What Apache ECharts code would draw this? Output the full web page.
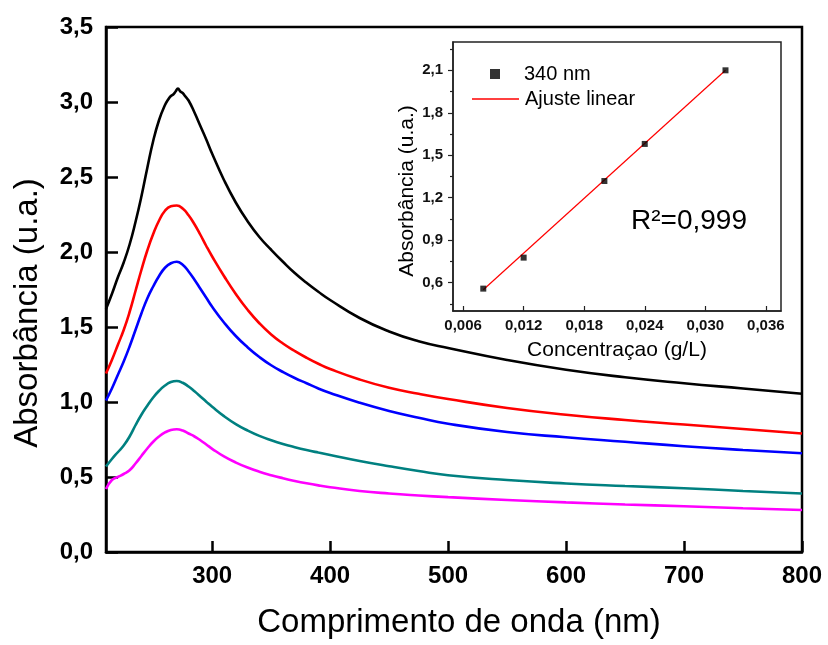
<!DOCTYPE html>
<html>
<head>
<meta charset="utf-8">
<script src="https://cdn.jsdelivr.net/npm/echarts@6/dist/echarts.min.js"></script>
<style>
  html, body { margin: 0; padding: 0; background: #ffffff; }
  #chart { width: 828px; height: 645px; }
</style>
</head>
<body>
<div id="chart"></div>
<script>
// UV-Vis absorption spectra at five concentrations (nm vs absorbance)
const wavelengths = [210, 215, 220, 225, 230, 235, 240, 245, 250, 255, 260, 265, 270, 275, 280, 285, 290, 295, 300, 310, 320, 330, 340, 350, 360, 370, 380, 390, 400, 425, 450, 475, 500, 550, 600, 650, 700, 750, 800];
const absRed     = [1.19, 1.28, 1.38, 1.48, 1.60, 1.74, 1.88, 2.01, 2.12, 2.21, 2.275, 2.305, 2.31, 2.29, 2.245, 2.185, 2.115, 2.04, 1.97, 1.84, 1.72, 1.615, 1.525, 1.45, 1.39, 1.34, 1.295, 1.255, 1.22, 1.15, 1.095, 1.055, 1.02, 0.96, 0.915, 0.88, 0.85, 0.82, 0.79];
const absBlue    = [1.01, 1.09, 1.18, 1.27, 1.37, 1.48, 1.59, 1.69, 1.77, 1.84, 1.895, 1.925, 1.935, 1.915, 1.87, 1.815, 1.755, 1.695, 1.635, 1.53, 1.44, 1.365, 1.30, 1.245, 1.20, 1.16, 1.125, 1.09, 1.06, 0.995, 0.94, 0.895, 0.855, 0.80, 0.765, 0.735, 0.705, 0.68, 0.658];
const absTeal    = [0.57, 0.62, 0.665, 0.71, 0.77, 0.845, 0.915, 0.975, 1.03, 1.075, 1.11, 1.133, 1.14, 1.128, 1.103, 1.071, 1.037, 1.002, 0.968, 0.906, 0.853, 0.81, 0.774, 0.745, 0.72, 0.699, 0.68, 0.663, 0.647, 0.607, 0.572, 0.54, 0.512, 0.48, 0.457, 0.44, 0.425, 0.407, 0.39];
const absMagenta = [0.42, 0.48, 0.50, 0.52, 0.545, 0.59, 0.64, 0.69, 0.735, 0.77, 0.797, 0.813, 0.818, 0.81, 0.79, 0.77, 0.745, 0.717, 0.688, 0.637, 0.597, 0.563, 0.535, 0.512, 0.492, 0.474, 0.458, 0.444, 0.432, 0.407, 0.39, 0.377, 0.366, 0.347, 0.331, 0.317, 0.305, 0.292, 0.28];

// the most concentrated sample is noisier around its peak, so it is sampled more densely
const blackWavelengths = [210, 215, 220, 225, 230, 235, 240, 245, 250, 255, 260, 263, 265, 267, 269, 271, 273, 275, 277, 280, 285, 290, 295, 300, 310, 320, 330, 340, 350, 360, 370, 380, 390, 400, 425, 450, 475, 500, 550, 600, 650, 700, 750, 800];
const absBlack         = [1.62, 1.72, 1.83, 1.93, 2.05, 2.20, 2.37, 2.56, 2.74, 2.88, 2.98, 3.02, 3.04, 3.05, 3.07, 3.09, 3.07, 3.06, 3.04, 3.01, 2.93, 2.84, 2.75, 2.655, 2.48, 2.33, 2.205, 2.10, 2.015, 1.935, 1.86, 1.795, 1.735, 1.68, 1.56, 1.47, 1.405, 1.36, 1.28, 1.215, 1.165, 1.125, 1.09, 1.055];

// calibration at 340 nm
const concentrations = [0.008, 0.012, 0.020, 0.024, 0.032];
const abs340         = [0.558, 0.777, 1.318, 1.58, 2.10];
const fitConc        = [0.008, 0.032];
const fitAbs         = [0.55, 2.10];

// tick positions
const mainXTicks   = [300, 400, 500, 600, 700, 800];
const insetXTicks  = [0.006, 0.012, 0.018, 0.024, 0.030, 0.036];
const insetYTicks  = [0.6, 0.9, 1.2, 1.5, 1.8, 2.1];
const insetYMinor  = [0.45, 0.75, 1.05, 1.35, 1.65, 1.95, 2.25];

const FONT = '"Liberation Sans", Arial, sans-serif';
const pairs = (xs, ys) => xs.map((x, i) => [x, ys[i]]);
const comma = (v, d) => v.toFixed(d).replace('.', ',');

const spectrum = (name, xs, ys, color) => ({
  name, type: 'line', xAxisIndex: 0, yAxisIndex: 0,
  data: pairs(xs, ys), symbol: 'none', smooth: 0.5,
  lineStyle: { color, width: 2.6 }, itemStyle: { color }, z: 3
});

const chart = echarts.init(document.getElementById('chart'), null, { renderer: 'canvas' });

chart.setOption({
  animation: false,
  backgroundColor: '#ffffff',
  textStyle: { fontFamily: FONT },
  grid: [
    { left: 106, top: 27, right: 26, bottom: 93, containLabel: false, outerBoundsMode: 'none',
      show: true, borderColor: '#000', borderWidth: 2.5, backgroundColor: 'transparent' },
    { left: 453, top: 42, right: 47, bottom: 334, containLabel: false, outerBoundsMode: 'none',
      show: true, borderColor: '#222', borderWidth: 1.5, backgroundColor: '#ffffff' }
  ],
  xAxis: [
    { type: 'value', gridIndex: 0, min: 210, max: 800,
      axisLine: { show: true, onZero: false, lineStyle: { color: '#000', width: 2.5 } },
      axisTick: { show: true, inside: true, length: 11, customValues: mainXTicks, lineStyle: { color: '#000', width: 2.5 } },
      axisLabel: { customValues: mainXTicks, margin: 12, fontSize: 24, fontWeight: 'bold', color: '#000', fontFamily: FONT },
      splitLine: { show: false } },
    { type: 'value', gridIndex: 1, min: 0.005, max: 0.0375,
      axisLine: { show: true, onZero: false, lineStyle: { color: '#222', width: 1.5 } },
      axisTick: { show: true, inside: true, length: 5, customValues: insetXTicks, lineStyle: { color: '#222', width: 1.2 } },
      axisLabel: { customValues: insetXTicks, margin: 7, fontSize: 15, fontWeight: 'bold', color: '#111', fontFamily: FONT,
                   formatter: v => comma(v, 3) },
      splitLine: { show: false } }
  ],
  yAxis: [
    { type: 'value', gridIndex: 0, min: 0, max: 3.5, interval: 0.5,
      axisLine: { show: true, onZero: false, lineStyle: { color: '#000', width: 2.5 } },
      axisTick: { show: true, inside: true, length: 12, lineStyle: { color: '#000', width: 2.5 } },
      axisLabel: { margin: 13, fontSize: 24, fontWeight: 'bold', color: '#000', fontFamily: FONT,
                   formatter: v => comma(v, 1) },
      splitLine: { show: false } },
    { type: 'value', gridIndex: 1, min: 0.4, max: 2.3, position: 'left',
      axisLine: { show: true, onZero: false, lineStyle: { color: '#222', width: 1.5 } },
      axisTick: { show: true, inside: false, length: 5, customValues: insetYTicks, lineStyle: { color: '#222', width: 1.2 } },
      axisLabel: { customValues: insetYTicks, margin: 10, fontSize: 15, fontWeight: 'bold', color: '#111', fontFamily: FONT,
                   formatter: v => comma(v, 1) },
      splitLine: { show: false } },
    { type: 'value', gridIndex: 1, min: 0.4, max: 2.3, position: 'left', offset: 0,
      axisLine: { show: false },
      axisTick: { show: true, inside: false, length: 3, customValues: insetYMinor, lineStyle: { color: '#222', width: 1.2 } },
      axisLabel: { show: false },
      splitLine: { show: false } }
  ],
  legend: [
    { data: [{ name: '340 nm', icon: 'rect' }],
      left: 490, top: 64, padding: 0, itemWidth: 10, itemHeight: 10,
      itemStyle: { color: '#000' },
      textStyle: { fontSize: 20, color: '#000', fontFamily: FONT, padding: [0, 0, 0, 19] },
      selectedMode: false },
    { data: [{ name: 'Ajuste linear', icon: 'rect' }],
      left: 472, top: 89, padding: 0, itemWidth: 47, itemHeight: 1.4,
      itemStyle: { color: '#ff0000' },
      textStyle: { fontSize: 20, color: '#000', fontFamily: FONT, padding: [0, 0, 0, 1] },
      selectedMode: false }
  ],
  series: [
    spectrum('Amostra 1', blackWavelengths, absBlack, '#000000'),
    spectrum('Amostra 2', wavelengths, absRed, '#ff0000'),
    spectrum('Amostra 3', wavelengths, absBlue, '#0000ff'),
    spectrum('Amostra 4', wavelengths, absTeal, '#008080'),
    spectrum('Amostra 5', wavelengths, absMagenta, '#ff00ff'),
    { name: 'Ajuste linear', type: 'line', xAxisIndex: 1, yAxisIndex: 1,
      data: pairs(fitConc, fitAbs), symbol: 'none',
      lineStyle: { color: '#ff0000', width: 1.2 }, itemStyle: { color: '#ff0000' }, z: 4 },
    { name: '340 nm', type: 'scatter', xAxisIndex: 1, yAxisIndex: 1,
      data: pairs(concentrations, abs340), symbol: 'rect', symbolSize: 6,
      itemStyle: { color: '#000000' }, z: 5 }
  ],
  graphic: [
    { type: 'text', x: 459, y: 623,
      style: { text: 'Comprimento de onda (nm)', fontSize: 33, fontFamily: FONT, fill: '#000', align: 'center', verticalAlign: 'middle' } },
    { type: 'text', x: 28, y: 313, rotation: Math.PI / 2,
      style: { text: 'Absorbância (u.a.)', fontSize: 33, fontFamily: FONT, fill: '#000', align: 'center', verticalAlign: 'middle' } },
    { type: 'text', x: 617, y: 350,
      style: { text: 'Concentraçao (g/L)', fontSize: 21, fontFamily: FONT, fill: '#000', align: 'center', verticalAlign: 'middle' } },
    { type: 'text', x: 407, y: 191, rotation: Math.PI / 2,
      style: { text: 'Absorbância (u.a.)', fontSize: 21, fontFamily: FONT, fill: '#000', align: 'center', verticalAlign: 'middle' } },
    { type: 'text', x: 689, y: 221,
      style: { text: 'R²=0,999', fontSize: 28, fontFamily: FONT, fill: '#000', align: 'center', verticalAlign: 'middle' } }
  ]
});
</script>
</body>
</html>
